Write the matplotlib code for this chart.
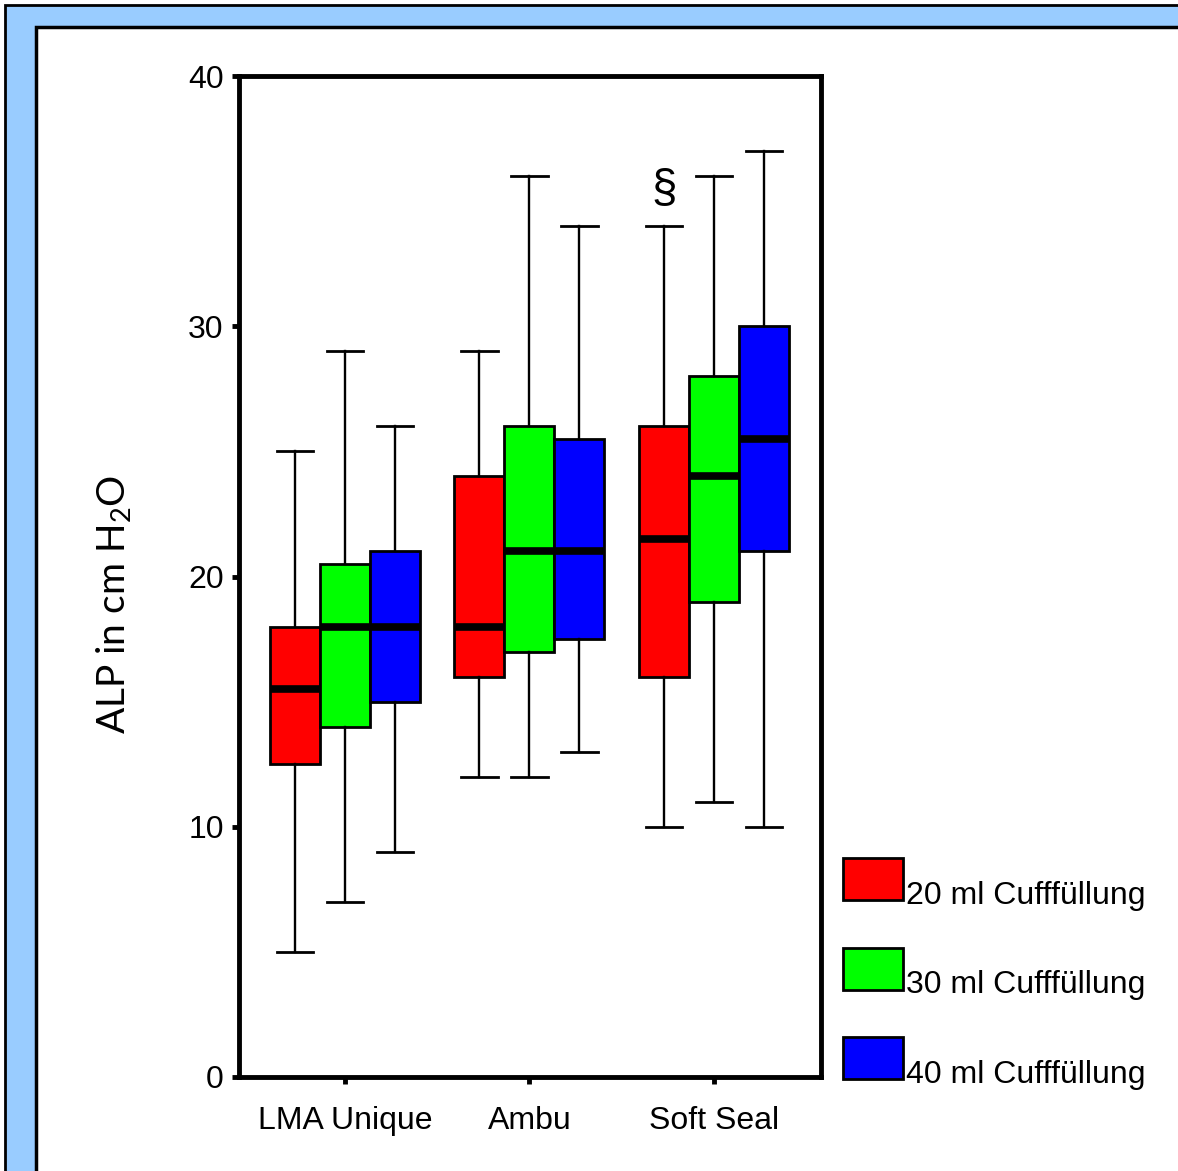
import matplotlib
matplotlib.use("Agg")
import matplotlib.pyplot as plt
from matplotlib.patches import Rectangle

# data (cm H2O)
groups = ["LMA Unique", "Ambu", "Soft Seal"]
series = ["20 ml Cufffüllung", "30 ml Cufffüllung", "40 ml Cufffüllung"]
colors = ["#ff0000", "#00ff00", "#0000ff"]

# per series: one value per group
whislo = [[5, 12, 10], [7, 12, 11], [9, 13, 10]]
q1 = [[12.5, 16, 16], [14, 17, 19], [15, 17.5, 21]]
med = [[15.5, 18, 21.5], [18, 21, 24], [18, 21, 25.5]]
q3 = [[18, 24, 26], [20.5, 26, 28], [21, 25.5, 30]]
whishi = [[25, 29, 34], [29, 36, 36], [26, 34, 37]]

W, H = 1178, 1171
fig = plt.figure(figsize=(W / 100, H / 100), dpi=100)

narrow = ["Liberation Sans Narrow", "Liberation Sans", "DejaVu Sans"]
plt.rcParams["mathtext.fontset"] = "custom"
plt.rcParams["mathtext.rm"] = "Lato"

# background frame, in pixel coordinates
bg = fig.add_axes([0, 0, 1, 1], zorder=-1)
bg.set_xlim(0, W)
bg.set_ylim(H, 0)
bg.axis("off")
bg.add_patch(Rectangle((5, 5), 1300, 1300, facecolor="#99ccff", edgecolor="black", lw=2))
bg.add_patch(Rectangle((36, 27), 1300, 1300, facecolor="white", edgecolor="black", lw=2.5))

ax = fig.add_axes([239 / W, 1 - 1077 / H, (821 - 239) / W, (1077 - 76) / H])
ax.set_facecolor("none")

bw = 0.271
offsets = [-bw, 0, bw]
for s in range(3):
    stats = []
    for g in range(3):
        stats.append(dict(whislo=whislo[s][g], q1=q1[s][g], med=med[s][g],
                          q3=q3[s][g], whishi=whishi[s][g], fliers=[]))
    pos = [g + 1 + offsets[s] for g in range(3)]
    ax.bxp(stats, positions=pos, widths=bw, capwidths=0.2, patch_artist=True,
           showfliers=False, manage_ticks=False,
           boxprops=dict(facecolor=colors[s], edgecolor="black", linewidth=2),
           medianprops=dict(color="black", linewidth=5.5, solid_capstyle="butt"),
           whiskerprops=dict(color="black", linewidth=1.7),
           capprops=dict(color="black", linewidth=2))

ax.text(3 + offsets[0], 35.5, "§", ha="center", va="center", fontsize=33, family=narrow)

ax.set_xlim(0.4255, 3.58)
ax.set_ylim(0, 40)
ax.set_yticks([0, 10, 20, 30, 40])
ax.set_xticks([1, 2, 3])
ax.set_xticklabels(groups)
for sp in ax.spines.values():
    sp.set_linewidth(3.5)
ax.tick_params(axis="both", direction="out", length=5, width=3.5, labelsize=23, pad=6)
ax.tick_params(axis="x", pad=16)
for lab in ax.get_xticklabels() + ax.get_yticklabels():
    lab.set_family(narrow)

fig.text(114 / W, 1 - 604 / H, "ALP in cm H$_2$O", rotation=90, ha="center", va="center",
         fontsize=28, family="Lato")

# legend
for i, (name, c) in enumerate(zip(series, colors)):
    y0 = 858 + i * 89.5
    bg.add_patch(Rectangle((843, y0), 60, 42, facecolor=c, edgecolor="black", lw=2))
    bg.text(906, y0 + 46, name, ha="left", va="baseline", fontsize=23, family=narrow)

fig.savefig("out.png", dpi=100)
